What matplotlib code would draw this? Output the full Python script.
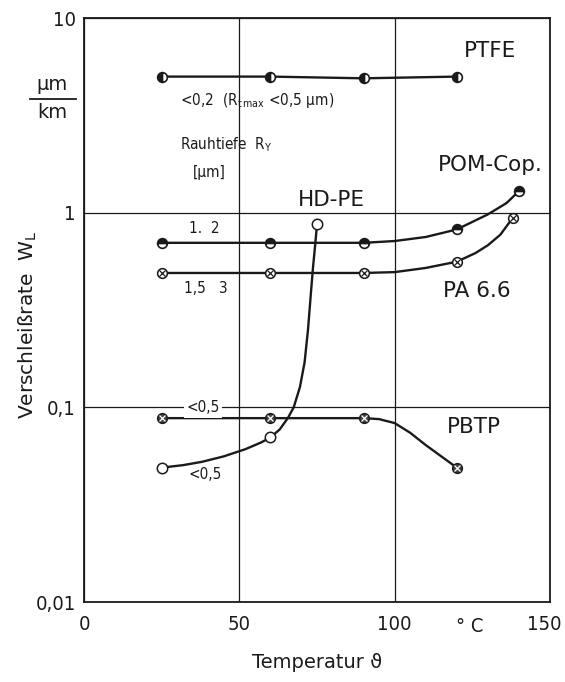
import matplotlib
matplotlib.use('Agg')
import matplotlib.pyplot as plt
from matplotlib.lines import Line2D
from matplotlib.transforms import ScaledTranslation

# ---------------- data ----------------
ptfe_T = [25, 60, 90, 120]
ptfe_W = [5.0, 5.0, 4.9, 5.0]

pom_T = [25, 60, 90, 120, 140]
pom_W = [0.70, 0.70, 0.70, 0.82, 1.29]

pa_T = [25, 60, 90, 120, 138]
pa_W = [0.49, 0.49, 0.49, 0.56, 0.94]

hdpe_T = [25, 60, 75]
hdpe_W = [0.049, 0.070, 0.87]

pbtp_T = [25, 60, 90, 120]
pbtp_W = [0.088, 0.088, 0.088, 0.049]

# traced curve shapes
pom_curve_T = [25, 60, 90, 100, 110, 120, 130, 136, 140]
pom_curve_W = [0.70, 0.70, 0.70, 0.715, 0.75, 0.82, 0.98, 1.12, 1.29]

pa_curve_T = [25, 60, 90, 100, 110, 120, 126, 130, 134, 138]
pa_curve_W = [0.49, 0.49, 0.49, 0.495, 0.52, 0.56, 0.62, 0.68, 0.77, 0.94]

hdpe_curve_T = [25, 32, 38, 45, 52, 57, 60, 63, 65.6, 67.5, 69.5, 71, 72.1, 73, 73.7, 74.4, 75]
hdpe_curve_W = [0.049, 0.0505, 0.0525, 0.056, 0.061, 0.066, 0.070, 0.077, 0.088, 0.10, 0.127,
                0.17, 0.25, 0.38, 0.52, 0.68, 0.87]

pbtp_curve_T = [25, 60, 90, 95, 100, 105, 110, 115, 120]
pbtp_curve_W = [0.088, 0.088, 0.088, 0.087, 0.083, 0.074, 0.064, 0.056, 0.049]

x_ticks = [0, 50, 100, 150]
x_ticklabels = ['0', '50', '100', '150']
y_ticks = [0.01, 0.1, 1, 10]
y_ticklabels = ['0,01', '0,1', '1', '10']

# ---------------- figure ----------------
W, H = 565, 682
fig = plt.figure(figsize=(W / 100, H / 100), dpi=100)
ax = fig.add_axes([84 / W, 1 - 602 / H, (550 - 84) / W, (602 - 18) / H])

NARROW = ['Liberation Sans Narrow', 'DejaVu Sans']
SANS = ['DejaVu Sans']
ink = '#1a1a1a'

ax.set_yscale('log')
ax.set_xlim(0, 150)
ax.set_ylim(0.01, 10)
ax.set_xticks(x_ticks)
ax.set_xticklabels(x_ticklabels)
ax.set_yticks(y_ticks)
ax.set_yticklabels(y_ticklabels)
ax.minorticks_off()
ax.tick_params(length=0, pad=6)
ax.tick_params(axis='x', pad=9)
for lab in ax.get_xticklabels() + ax.get_yticklabels():
    lab.set_family(NARROW)
    lab.set_fontsize(14.5)
    lab.set_fontstretch('condensed')
    lab.set_color(ink)
last = ax.get_xticklabels()[-1]
last.set_transform(last.get_transform() + ScaledTranslation(-0.06, 0, fig.dpi_scale_trans))
for s in ax.spines.values():
    s.set_linewidth(1.3)
    s.set_color(ink)
ax.grid(True, color=ink, linewidth=0.9)
ax.set_axisbelow(True)

lw = 1.7
ms = 7.0
# lines
ax.plot(ptfe_T, ptfe_W, color=ink, lw=lw, zorder=3)
ax.plot(pom_curve_T, pom_curve_W, color=ink, lw=lw, zorder=3)
ax.plot(pa_curve_T, pa_curve_W, color=ink, lw=lw, zorder=3)
ax.plot(hdpe_curve_T, hdpe_curve_W, color=ink, lw=lw, zorder=3)
ax.plot(pbtp_curve_T, pbtp_curve_W, color=ink, lw=lw, zorder=3)

# markers
ax.plot(ptfe_T, ptfe_W, 'o', ms=ms, mec=ink, mfc=ink, fillstyle='left',
        mfcalt='white', mew=1.2, ls='none', zorder=4)
ax.plot(pom_T, pom_W, 'o', ms=ms, mec=ink, mfc=ink, fillstyle='top',
        mfcalt='white', mew=1.2, ls='none', zorder=4)
ax.plot(pa_T, pa_W, 'o', ms=ms, mec=ink, mfc='white', mew=1.1, ls='none', zorder=4)
ax.plot(pa_T, pa_W, 'x', ms=4.2, mec=ink, mew=0.9, ls='none', zorder=5)
ax.plot(hdpe_T, hdpe_W, 'o', ms=ms + 0.5, mec=ink, mfc='white', mew=1.1, ls='none', zorder=4)
ax.plot(pbtp_T, pbtp_W, 'o', ms=ms, mec=ink, mfc='#444444', mew=1.1, ls='none', zorder=4)
ax.plot(pbtp_T, pbtp_W, 'x', ms=4.2, mec='white', mew=0.9, ls='none', zorder=5)

# series labels
lab_kw = dict(family=SANS, fontsize=15.5, color=ink, ha='center', va='center', zorder=6)
ax.text(130.7, 6.77, 'PTFE', **lab_kw)
ax.text(130.7, 1.76, 'POM-Cop.', **lab_kw)
ax.text(79.5, 1.16, 'HD-PE', **lab_kw)
ax.text(126.5, 0.396, 'PA 6.6', **lab_kw)
ax.text(125.5, 0.0793, 'PBTP', **lab_kw)

# small annotations
sm_kw = dict(family=NARROW, fontsize=11, color=ink, zorder=6, fontstretch='condensed')
ax.text(30.9, 3.75, r'<0,2  (R$_{\mathregular{t\,max}}$ <0,5 µm)', ha='left', va='center', **sm_kw)
ax.text(30.9, 2.23, r'Rauhtiefe  R$_{\mathregular{Y}}$', ha='left', va='center', **sm_kw)
ax.text(35.1, 1.60, '[µm]', ha='left', va='center', **sm_kw)
ax.text(38.6, 0.834, '1.  2', ha='center', va='center', **sm_kw)
ax.text(39.3, 0.406, '1,5   3', ha='center', va='center', **sm_kw)
ax.text(38.3, 0.1, '<0,5', ha='center', va='center',
        bbox=dict(facecolor='white', edgecolor='none', pad=2), **sm_kw)
ax.text(38.9, 0.045, '<0,5', ha='center', va='center', **sm_kw)

# degree unit among x tick labels
ax.text(124.2, -0.042, '° C', transform=ax.get_xaxis_transform(), ha='center', va='center',
        family=NARROW, fontsize=14.5, fontstretch='condensed', color=ink)

# axis titles
ax.set_xlabel('Temperatur ϑ', family=SANS, fontsize=14, color=ink, labelpad=14)
fig.text(28 / W, 1 - 325 / H, r'Verschleißrate  W$_{\mathregular{L}}$', rotation=90,
         ha='center', va='center', family=SANS, fontsize=14.5, color=ink)

# unit fraction µm / km
fig.text(52 / W, 1 - 85 / H, 'µm', ha='center', va='center', family=SANS, fontsize=14, color=ink)
fig.text(52 / W, 1 - 113 / H, 'km', ha='center', va='center', family=SANS, fontsize=14, color=ink)
fig.add_artist(Line2D([30 / W, 76 / W], [1 - 99 / H, 1 - 99 / H], color=ink, lw=1.3))

fig.savefig('out.png', dpi=100, facecolor='white')
